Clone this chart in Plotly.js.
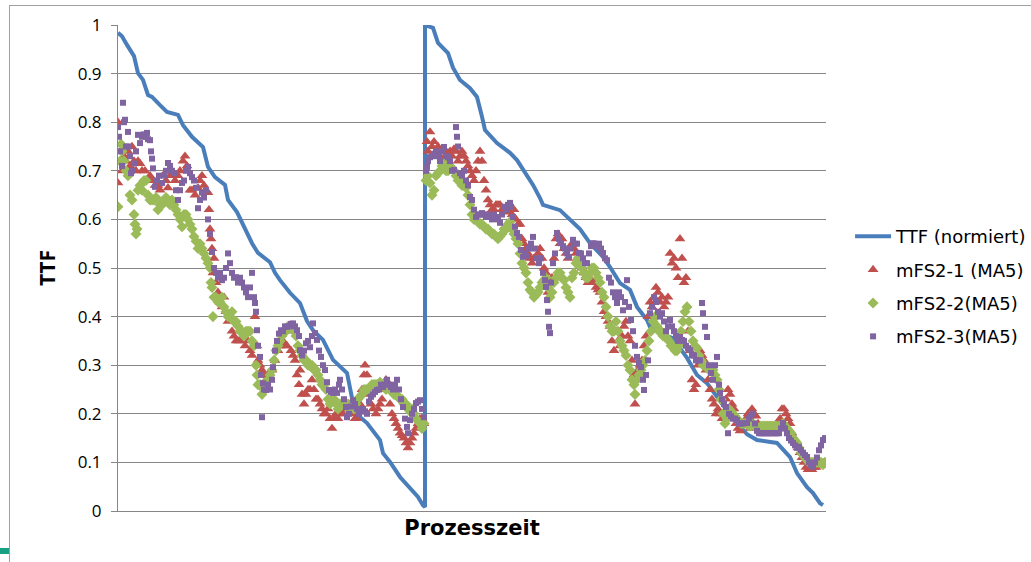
<!DOCTYPE html>
<html><head><meta charset="utf-8">
<script src="https://cdn.plot.ly/plotly-3.0.1.min.js"></script>
<style>
html,body{margin:0;padding:0;background:#fff;overflow:hidden;width:1031px;height:562px;}
#frame{position:absolute;left:9px;top:5px;width:1040px;height:600px;border:1px solid #a0a0a0;box-sizing:border-box;}
#mark{position:absolute;left:0;top:548px;width:9px;height:6px;background:#17a084;}
#chart{position:absolute;left:0;top:0;width:1060px;height:562px;}
</style></head><body>
<div id="frame"></div><div id="mark"></div><div id="chart"></div>
<script>
// Sample index (Prozesszeit) and value pairs
const ttf = [[0,0.984],[4,0.977],[9,0.959],[13,0.944],[16,0.936],[20,0.901],[25,0.887],[30,0.856],[34,0.852],[42,0.835],[49,0.821],[60,0.815],[65,0.794],[74,0.770],[85,0.749],[90,0.708],[97,0.687],[107,0.671],[110,0.640],[119,0.615],[124,0.593],[134,0.551],[140,0.531],[152,0.512],[157,0.490],[162,0.475],[172,0.449],[182,0.428],[189,0.391],[195,0.372],[205,0.352],[215,0.311],[229,0.284],[232,0.255],[234,0.228],[237,0.202],[249,0.181],[262,0.146],[265,0.119],[272,0.101],[282,0.070],[292,0.047],[300,0.029],[305,0.012],[307,0.008],[307,1.0],[309,0.998],[315,0.994],[320,0.963],[330,0.942],[335,0.912],[342,0.887],[352,0.870],[359,0.852],[364,0.811],[367,0.784],[379,0.757],[392,0.737],[399,0.722],[407,0.698],[415,0.671],[422,0.644],[425,0.630],[442,0.619],[449,0.605],[462,0.580],[472,0.551],[485,0.523],[492,0.502],[502,0.469],[512,0.455],[519,0.420],[529,0.393],[532,0.379],[542,0.366],[554,0.356],[562,0.335],[569,0.315],[579,0.280],[589,0.263],[599,0.235],[612,0.198],[629,0.158],[639,0.146],[659,0.140],[672,0.111],[679,0.078],[689,0.049],[695,0.037],[702,0.016],[705,0.012]];

const mfs1 = [[0,0.80],[0,0.675],[2,0.74],[4,0.70],[6,0.73],[8,0.72],[10,0.74],[12,0.71],[14,0.75],[16,0.72],[18,0.70],[20,0.72],[22,0.715],[24,0.70],[27,0.70],[30,0.68],[32,0.69],[34,0.68],[37,0.67],[40,0.67],[42,0.66],[45,0.69],[48,0.68],[50,0.665],[52,0.69],[54,0.70],[57,0.68],[60,0.69],[62,0.70],[65,0.72],[67,0.73],[69,0.71],[72,0.66],[74,0.66],[77,0.65],[80,0.665],[82,0.68],[84,0.69],[86,0.67],[88,0.66],[90,0.655],[91,0.62],[92,0.58],[93,0.56],[94,0.54],[95,0.49],[96,0.52],[98,0.47],[100,0.45],[102,0.43],[104,0.42],[106,0.44],[108,0.41],[110,0.39],[112,0.40],[114,0.37],[116,0.36],[118,0.35],[120,0.35],[122,0.35],[125,0.36],[127,0.34],[130,0.35],[132,0.33],[134,0.32],[137,0.40],[139,0.34],[140,0.31],[142,0.30],[144,0.29],[146,0.28],[148,0.27],[150,0.28],[152,0.27],[154,0.29],[157,0.31],[160,0.33],[162,0.34],[165,0.35],[167,0.34],[169,0.34],[171,0.37],[173,0.33],[175,0.32],[177,0.31],[179,0.28],[181,0.26],[182,0.29],[184,0.24],[186,0.22],[188,0.24],[190,0.25],[192,0.25],[194,0.27],[196,0.25],[198,0.23],[200,0.23],[202,0.22],[204,0.21],[206,0.20],[208,0.20],[210,0.21],[212,0.19],[214,0.17],[216,0.19],[218,0.20],[220,0.19],[222,0.20],[225,0.20],[228,0.21],[230,0.21],[232,0.22],[234,0.20],[237,0.19],[239,0.19],[242,0.22],[244,0.25],[246,0.28],[247,0.30],[249,0.28],[251,0.24],[253,0.22],[255,0.21],[258,0.20],[260,0.21],[262,0.22],[264,0.23],[266,0.25],[268,0.27],[270,0.26],[272,0.22],[274,0.20],[276,0.19],[278,0.18],[280,0.17],[282,0.16],[284,0.155],[286,0.15],[288,0.14],[290,0.13],[292,0.14],[294,0.15],[296,0.16],[298,0.17],[300,0.18],[302,0.19],[304,0.19],[306,0.18],
[309,0.76],[310,0.74],[312,0.78],[314,0.75],[316,0.76],[318,0.74],[320,0.75],[322,0.73],[324,0.74],[326,0.72],[328,0.74],[330,0.73],[332,0.74],[334,0.73],[336,0.745],[338,0.74],[340,0.72],[342,0.73],[344,0.74],[346,0.73],[348,0.72],[350,0.71],[352,0.70],[354,0.69],[356,0.68],[358,0.70],[360,0.72],[362,0.74],[364,0.72],[366,0.68],[368,0.66],[370,0.64],[372,0.63],[374,0.62],[376,0.62],[378,0.63],[380,0.63],[382,0.63],[384,0.62],[386,0.62],[388,0.62],[390,0.615],[392,0.62],[394,0.61],[396,0.62],[398,0.60],[400,0.59],[402,0.59],[404,0.56],[406,0.55],[408,0.54],[410,0.53],[412,0.52],[414,0.51],[416,0.52],[418,0.52],[420,0.53],[422,0.54],[424,0.52],[426,0.50],[428,0.49],[430,0.45],[432,0.47],[434,0.48],[436,0.52],[438,0.56],[440,0.57],[442,0.55],[444,0.56],[446,0.54],[448,0.53],[450,0.52],[452,0.54],[454,0.55],[456,0.54],[458,0.53],[460,0.52],[462,0.51],[464,0.50],[466,0.49],[468,0.48],[470,0.47],[472,0.48],[474,0.47],[476,0.47],[478,0.46],[480,0.455],[482,0.45],[484,0.43],[486,0.41],[488,0.40],[490,0.39],[492,0.38],[494,0.35],[496,0.33],[498,0.37],[500,0.35],[502,0.34],[504,0.36],[506,0.38],[508,0.39],[510,0.36],[512,0.35],[514,0.31],[516,0.28],[517,0.22],[518,0.27],[520,0.29],[522,0.30],[524,0.31],[526,0.34],[528,0.36],[530,0.40],[532,0.43],[534,0.42],[536,0.44],[538,0.46],[540,0.45],[542,0.43],[544,0.44],[546,0.42],[548,0.43],[550,0.44],[552,0.53],[554,0.51],[556,0.52],[558,0.50],[560,0.48],[562,0.56],[564,0.52],[566,0.47],[568,0.48],[570,0.37],[572,0.33],[574,0.27],[576,0.25],[578,0.26],[580,0.30],[582,0.33],[584,0.32],[586,0.31],[588,0.29],[590,0.27],[592,0.25],[594,0.23],[596,0.22],[598,0.20],[600,0.21],[602,0.20],[604,0.19],[606,0.20],[608,0.23],[610,0.25],[612,0.24],[614,0.22],[616,0.21],[618,0.18],[620,0.17],[622,0.165],[624,0.18],[626,0.18],[628,0.19],[630,0.20],[632,0.17],[634,0.21],[636,0.20],[638,0.195],[640,0.18],[642,0.17],[644,0.17],[646,0.17],[648,0.17],[650,0.17],[652,0.17],[654,0.17],[656,0.17],[658,0.17],[660,0.18],[662,0.19],[664,0.21],[666,0.21],[668,0.20],[670,0.19],[672,0.18],[674,0.16],[676,0.15],[678,0.14],[680,0.13],[682,0.12],[684,0.11],[686,0.10],[688,0.09],[690,0.085],[692,0.09],[694,0.085],[696,0.09],[698,0.09],[700,0.095],[702,0.10],[704,0.095],[706,0.10]];

const mfs2 = [[0,0.626],[2,0.72],[3,0.755],[4,0.74],[6,0.72],[8,0.70],[10,0.69],[12,0.65],[14,0.64],[16,0.61],[17,0.59],[18,0.57],[19,0.58],[20,0.66],[22,0.67],[24,0.66],[26,0.68],[28,0.68],[30,0.65],[32,0.64],[34,0.64],[36,0.64],[38,0.645],[40,0.62],[42,0.63],[44,0.63],[46,0.64],[48,0.645],[50,0.64],[52,0.63],[54,0.64],[56,0.63],[58,0.62],[60,0.61],[62,0.60],[64,0.585],[66,0.61],[68,0.61],[70,0.60],[72,0.59],[74,0.58],[76,0.565],[78,0.555],[80,0.54],[82,0.55],[84,0.54],[86,0.53],[88,0.52],[90,0.51],[92,0.50],[93,0.47],[94,0.46],[95,0.40],[96,0.44],[98,0.44],[100,0.43],[102,0.43],[104,0.44],[106,0.42],[108,0.41],[110,0.40],[112,0.40],[114,0.41],[116,0.39],[118,0.39],[120,0.38],[122,0.37],[124,0.37],[126,0.36],[128,0.37],[130,0.37],[132,0.37],[134,0.35],[136,0.34],[138,0.30],[139,0.28],[140,0.26],[142,0.26],[144,0.24],[146,0.25],[148,0.26],[150,0.27],[152,0.28],[154,0.29],[156,0.31],[158,0.33],[160,0.34],[162,0.35],[164,0.36],[166,0.37],[168,0.37],[170,0.38],[172,0.38],[174,0.38],[176,0.37],[178,0.36],[180,0.34],[182,0.33],[184,0.32],[186,0.31],[188,0.31],[190,0.30],[192,0.30],[194,0.30],[196,0.29],[198,0.29],[200,0.28],[202,0.27],[204,0.26],[206,0.26],[208,0.25],[210,0.23],[212,0.22],[214,0.23],[216,0.23],[218,0.22],[220,0.21],[222,0.22],[224,0.22],[226,0.22],[228,0.215],[230,0.22],[232,0.21],[234,0.22],[236,0.21],[238,0.22],[240,0.23],[242,0.235],[244,0.24],[246,0.25],[248,0.25],[250,0.25],[252,0.255],[254,0.26],[256,0.26],[258,0.26],[260,0.26],[262,0.265],[264,0.26],[266,0.26],[268,0.25],[270,0.255],[272,0.25],[274,0.245],[276,0.24],[278,0.24],[280,0.235],[282,0.23],[284,0.23],[286,0.22],[288,0.22],[290,0.21],[292,0.205],[294,0.21],[296,0.20],[298,0.19],[300,0.185],[302,0.18],[304,0.17],[306,0.18],
[308,0.68],[310,0.69],[312,0.675],[314,0.65],[316,0.66],[318,0.69],[320,0.695],[322,0.70],[324,0.71],[326,0.715],[328,0.70],[330,0.70],[332,0.71],[334,0.705],[336,0.70],[338,0.69],[340,0.68],[342,0.68],[344,0.67],[346,0.67],[348,0.665],[350,0.65],[352,0.63],[354,0.61],[356,0.60],[358,0.60],[360,0.595],[362,0.59],[364,0.59],[366,0.585],[368,0.58],[370,0.58],[372,0.575],[374,0.57],[376,0.57],[378,0.565],[380,0.56],[382,0.565],[384,0.57],[386,0.58],[388,0.58],[390,0.59],[392,0.595],[394,0.58],[396,0.57],[398,0.56],[400,0.55],[402,0.53],[404,0.51],[406,0.50],[408,0.49],[410,0.47],[412,0.455],[414,0.45],[416,0.44],[418,0.445],[420,0.45],[422,0.46],[424,0.47],[426,0.475],[428,0.48],[430,0.46],[432,0.44],[434,0.45],[436,0.47],[438,0.48],[440,0.49],[442,0.49],[444,0.48],[446,0.475],[448,0.46],[450,0.45],[452,0.44],[454,0.48],[456,0.49],[458,0.51],[460,0.52],[462,0.51],[464,0.50],[466,0.49],[468,0.48],[470,0.48],[472,0.49],[474,0.50],[476,0.50],[478,0.49],[480,0.48],[482,0.47],[484,0.45],[486,0.44],[488,0.42],[490,0.40],[492,0.38],[494,0.37],[496,0.37],[498,0.39],[500,0.37],[502,0.35],[504,0.34],[506,0.33],[508,0.32],[510,0.30],[512,0.29],[514,0.27],[516,0.26],[517,0.24],[519,0.27],[521,0.28],[523,0.29],[525,0.30],[527,0.31],[529,0.33],[531,0.35],[533,0.37],[535,0.39],[537,0.40],[539,0.38],[541,0.37],[543,0.37],[545,0.36],[547,0.36],[549,0.355],[551,0.35],[553,0.34],[555,0.34],[557,0.33],[559,0.33],[561,0.34],[563,0.37],[565,0.39],[567,0.41],[569,0.42],[571,0.39],[573,0.37],[575,0.35],[577,0.34],[579,0.335],[581,0.32],[583,0.31],[585,0.30],[587,0.30],[589,0.295],[591,0.29],[593,0.29],[595,0.29],[597,0.28],[599,0.27],[601,0.25],[603,0.23],[605,0.20],[607,0.18],[609,0.19],[611,0.21],[613,0.205],[615,0.20],[617,0.195],[619,0.19],[621,0.185],[623,0.18],[625,0.18],[627,0.18],[629,0.18],[631,0.175],[633,0.175],[635,0.18],[637,0.175],[639,0.17],[641,0.17],[643,0.175],[645,0.175],[647,0.175],[649,0.175],[651,0.175],[653,0.175],[655,0.175],[657,0.175],[659,0.175],[661,0.175],[663,0.175],[665,0.18],[667,0.175],[669,0.17],[671,0.165],[673,0.16],[675,0.15],[677,0.145],[679,0.14],[681,0.13],[683,0.12],[685,0.115],[687,0.11],[689,0.105],[691,0.10],[693,0.10],[695,0.10],[697,0.10],[699,0.10],[701,0.10],[703,0.10],[705,0.095],[707,0.10]];

const mfs3 = [[0,0.79],[1,0.77],[2,0.74],[4,0.71],[5,0.84],[6,0.80],[7,0.805],[8,0.75],[10,0.78],[11,0.75],[12,0.73],[13,0.695],[14,0.70],[16,0.715],[18,0.74],[20,0.774],[22,0.757],[24,0.77],[26,0.775],[28,0.77],[29,0.778],[30,0.765],[32,0.763],[33,0.74],[34,0.725],[35,0.705],[37,0.667],[39,0.68],[41,0.69],[44,0.675],[46,0.69],[48,0.70],[50,0.716],[52,0.71],[54,0.70],[56,0.695],[58,0.66],[60,0.64],[62,0.66],[64,0.675],[66,0.68],[68,0.70],[70,0.708],[72,0.695],[74,0.687],[76,0.68],[78,0.665],[80,0.623],[82,0.64],[84,0.655],[86,0.645],[88,0.66],[90,0.60],[92,0.57],[94,0.533],[96,0.50],[98,0.49],[100,0.48],[102,0.49],[104,0.475],[106,0.48],[108,0.50],[110,0.53],[112,0.51],[114,0.49],[116,0.48],[118,0.481],[120,0.47],[122,0.48],[124,0.47],[126,0.46],[128,0.45],[130,0.44],[132,0.46],[134,0.49],[136,0.44],[137,0.428],[138,0.41],[139,0.372],[140,0.34],[142,0.317],[143,0.28],[144,0.193],[145,0.263],[146,0.25],[148,0.249],[150,0.26],[152,0.25],[154,0.27],[155,0.296],[157,0.33],[159,0.35],[161,0.365],[163,0.372],[165,0.37],[167,0.38],[169,0.379],[171,0.38],[173,0.385],[175,0.386],[177,0.38],[179,0.372],[181,0.36],[182,0.331],[184,0.32],[186,0.33],[188,0.345],[190,0.35],[192,0.337],[194,0.36],[195,0.386],[197,0.366],[199,0.352],[201,0.33],[203,0.317],[205,0.30],[207,0.29],[209,0.265],[211,0.249],[213,0.245],[215,0.243],[217,0.25],[219,0.243],[221,0.26],[222,0.27],[224,0.25],[226,0.23],[228,0.214],[229,0.193],[231,0.20],[233,0.215],[235,0.228],[237,0.22],[239,0.21],[241,0.20],[243,0.205],[245,0.21],[247,0.205],[249,0.20],[251,0.225],[253,0.235],[255,0.24],[257,0.245],[259,0.249],[261,0.25],[263,0.26],[265,0.255],[267,0.26],[269,0.27],[271,0.26],[273,0.255],[275,0.25],[277,0.26],[279,0.27],[281,0.25],[283,0.23],[285,0.214],[287,0.19],[289,0.173],[290,0.16],[292,0.187],[294,0.20],[296,0.21],[298,0.222],[300,0.225],[302,0.228],[304,0.21],[306,0.193],
[308,0.70],[309,0.708],[310,0.72],[312,0.728],[314,0.73],[316,0.735],[318,0.74],[320,0.73],[322,0.72],[324,0.74],[326,0.749],[328,0.73],[330,0.728],[332,0.72],[334,0.70],[336,0.702],[338,0.79],[339,0.77],[340,0.75],[342,0.695],[344,0.69],[346,0.70],[348,0.68],[350,0.67],[352,0.646],[354,0.64],[356,0.62],[358,0.605],[360,0.61],[362,0.61],[364,0.613],[366,0.61],[368,0.605],[370,0.61],[372,0.605],[374,0.60],[376,0.61],[378,0.605],[380,0.60],[382,0.593],[384,0.61],[386,0.626],[388,0.62],[390,0.63],[392,0.634],[393,0.626],[395,0.605],[397,0.585],[399,0.572],[401,0.564],[403,0.537],[405,0.523],[407,0.53],[409,0.525],[411,0.54],[413,0.55],[415,0.564],[417,0.54],[419,0.52],[421,0.51],[423,0.52],[425,0.49],[427,0.475],[428,0.461],[429,0.434],[430,0.41],[431,0.379],[432,0.366],[433,0.47],[435,0.51],[437,0.53],[439,0.572],[441,0.56],[443,0.551],[445,0.545],[447,0.54],[449,0.53],[451,0.523],[453,0.54],[455,0.558],[457,0.55],[459,0.55],[461,0.531],[463,0.53],[465,0.52],[467,0.51],[469,0.51],[471,0.53],[473,0.545],[475,0.551],[477,0.55],[479,0.545],[481,0.55],[483,0.54],[485,0.531],[487,0.52],[489,0.516],[491,0.48],[493,0.47],[495,0.45],[497,0.44],[499,0.428],[501,0.45],[503,0.44],[505,0.413],[507,0.43],[509,0.475],[511,0.42],[513,0.393],[515,0.37],[517,0.34],[519,0.317],[521,0.305],[523,0.296],[525,0.27],[526,0.249],[528,0.28],[530,0.31],[532,0.407],[534,0.42],[536,0.44],[538,0.43],[540,0.41],[542,0.40],[544,0.407],[546,0.39],[548,0.37],[550,0.38],[552,0.393],[554,0.38],[556,0.37],[558,0.36],[560,0.35],[562,0.358],[564,0.352],[566,0.35],[568,0.34],[570,0.335],[572,0.331],[574,0.32],[576,0.32],[578,0.31],[580,0.31],[582,0.31],[584,0.428],[585,0.407],[587,0.379],[589,0.358],[591,0.30],[593,0.284],[595,0.27],[597,0.30],[599,0.317],[601,0.26],[602,0.243],[604,0.23],[606,0.22],[608,0.214],[610,0.16],[611,0.20],[613,0.195],[615,0.19],[617,0.19],[619,0.187],[621,0.18],[623,0.18],[625,0.18],[627,0.181],[629,0.181],[631,0.19],[633,0.195],[635,0.20],[637,0.18],[639,0.165],[641,0.16],[643,0.16],[645,0.16],[647,0.16],[649,0.16],[651,0.16],[653,0.16],[655,0.16],[657,0.16],[659,0.16],[661,0.16],[663,0.17],[665,0.181],[667,0.17],[669,0.16],[671,0.15],[673,0.145],[675,0.14],[677,0.135],[679,0.13],[681,0.132],[683,0.125],[685,0.12],[687,0.115],[689,0.111],[691,0.10],[693,0.095],[695,0.091],[697,0.10],[699,0.11],[701,0.125],[703,0.135],[705,0.146],[707,0.15]];

const seriesNames = ['TTF (normiert)', 'mFS2-1 (MA5)', 'mFS2-2(MA5)', 'mFS2-3(MA5)'];
const yTickVals = [0,0.1,0.2,0.3,0.4,0.5,0.6,0.7,0.8,0.9,1];
const yTickText = ['0','0.1','0.2','0.3','0.4','0.5','0.6','0.7','0.8','0.9','1'];

const xs = a => a.map(p => p[0]);
const ys = a => a.map(p => p[1]);
const FONT = 'Open Sans, Liberation Sans, sans-serif';
const LEGFONT = 'DejaVu Sans, sans-serif';

const traces = [
  {x: xs(ttf), y: ys(ttf), name: seriesNames[0], mode: 'lines', legendgroup: 'a',
   line: {color: '#4A7EBB', width: 4}},
  {x: xs(mfs1), y: ys(mfs1), name: seriesNames[1], mode: 'markers', legendgroup: 'b',
   marker: {symbol: 'triangle-up', size: 9.5, color: '#C0504D'}},
  {x: xs(mfs2), y: ys(mfs2), name: seriesNames[2], mode: 'markers', legendgroup: 'c',
   marker: {symbol: 'diamond', size: 8.5, color: '#9BBB59'}},
  {x: xs(mfs3), y: ys(mfs3), name: seriesNames[3], mode: 'markers', legendgroup: 'd',
   marker: {symbol: 'square', size: 6, color: '#8064A2'}}
];

// Chart drawn 1060 px wide (page clips at 1031) so the outside legend never shrinks the plot area
const layout = {
  width: 1060, height: 562,
  margin: {l: 118, r: 234, t: 25, b: 51},
  paper_bgcolor: 'rgba(0,0,0,0)', plot_bgcolor: 'rgba(0,0,0,0)',
  font: {family: FONT, color: '#000', size: 16},
  showlegend: true,
  legend: {x: 1.034, xanchor: 'left', y: 0.462, yanchor: 'middle',
    font: {family: LEGFONT, size: 18, color: '#000'}, tracegroupgap: 7,
    itemwidth: 36, bgcolor: 'rgba(0,0,0,0)'},
  xaxis: {range: [0, 708], showgrid: false, zeroline: false, showline: true,
    linecolor: '#868686', linewidth: 1, ticks: '', showticklabels: false,
    title: {text: '<b>Prozesszeit</b>', font: {family: 'DejaVu Sans, sans-serif', size: 21, color: '#000'}, standoff: 9}},
  yaxis: {range: [0, 1], tickvals: yTickVals, ticktext: yTickText, showgrid: true,
    gridcolor: '#868686', gridwidth: 1, zeroline: false, showline: true, linecolor: '#868686',
    ticks: 'outside', ticklen: 6, tickcolor: '#868686', ticklabelstandoff: 6,
    tickfont: {family: FONT, size: 17, color: '#000'},
    title: {text: '<b>TTF</b>', font: {family: FONT, size: 21, color: '#000'}, standoff: 16}}
};

Plotly.newPlot('chart', traces, layout, {staticPlot: true, displayModeBar: false});
</script></body></html>
